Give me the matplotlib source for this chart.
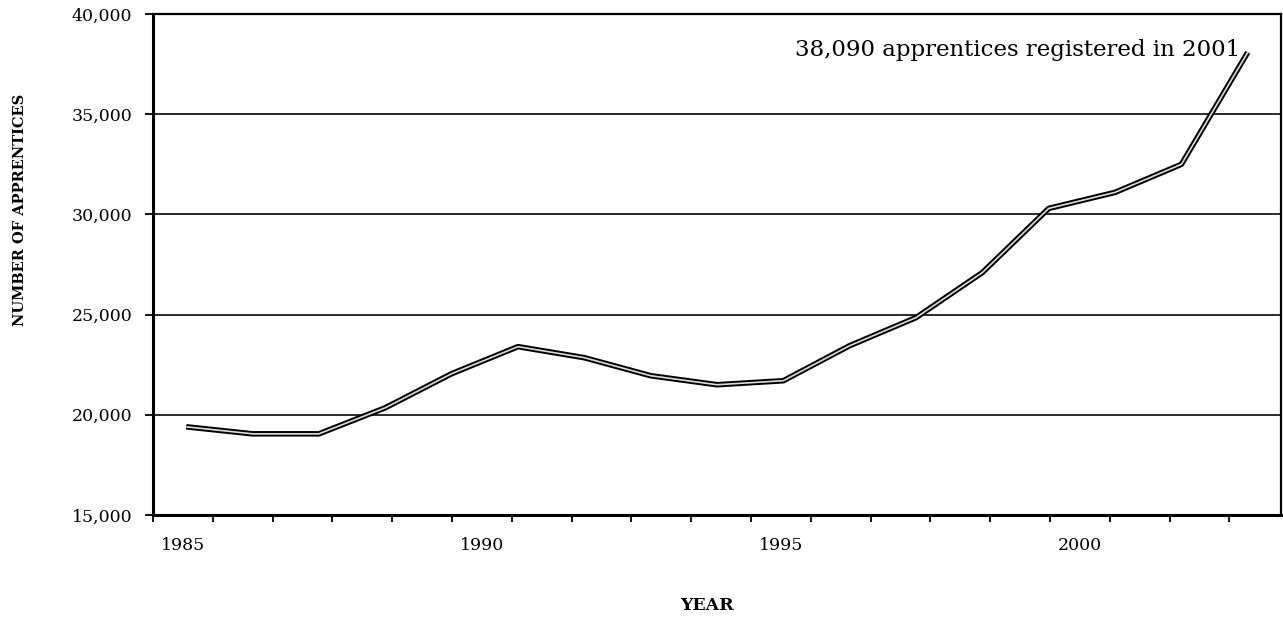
import matplotlib
matplotlib.use("Agg")
import matplotlib.pyplot as plt
from matplotlib.ticker import FuncFormatter

years = list(range(1985, 2002))
apprentices = [19400, 19050, 19050, 20350, 22050, 23400, 22850, 21950, 21500,
               21700, 23450, 24850, 27100, 30300, 31100, 32500, 38090]
y_ticks = [15000, 20000, 25000, 30000, 35000, 40000]
grid_values = [20000, 25000, 30000, 35000]
x_labels = ["1985", "1990", "1995", "2000"]

plt.rcParams['font.family'] = ['DejaVu Serif']

fig = plt.figure(figsize=(12.83, 6.18), dpi=100)
ax = fig.add_axes([0.1193, 0.1667, 0.8791, 0.8106])

xmin, xmax = years[0] - 0.5, years[-1] + 0.5
ax.set_xlim(xmin, xmax)
ax.set_ylim(y_ticks[0], y_ticks[-1])

for g in grid_values:
    ax.axhline(g, color='#1a1a1a', lw=1.3, zorder=1)

ax.plot(years, apprentices, color='black', lw=4.0, solid_joinstyle='round',
        solid_capstyle='butt', zorder=3)
ax.plot(years, apprentices, color='#dcdcdc', lw=1.2, solid_joinstyle='round',
        solid_capstyle='butt', zorder=4)

# category-style x axis: tick marks at boundaries, labels centred between
step = 0.9013
n = 19
tick_pos = [xmin + k * step for k in range(n) if xmin + k * step <= xmax]
ax.set_xticks(tick_pos)
ax.set_xticklabels([])
label_pos = [xmin + (i + 0.5) * step for i in (0, 5, 10, 15)]
ax.set_xticks(label_pos, minor=True)
ax.set_xticklabels(x_labels, minor=True, fontsize=12.5)
ax.tick_params(axis='x', which='major', direction='out', length=5, width=1.3)
ax.tick_params(axis='x', which='minor', length=0, pad=16)

ax.set_yticks(y_ticks)
ax.yaxis.set_major_formatter(FuncFormatter(lambda v, p: f"{int(v):,}"))
ax.tick_params(axis='y', direction='out', length=6, width=1.3, labelsize=12.5, pad=9)

for side in ['left', 'bottom']:
    ax.spines[side].set_linewidth(2.2)
for side in ['top', 'right']:
    ax.spines[side].set_linewidth(1.6)

ax.text(2000.88, 38200, f"{apprentices[-1]:,} apprentices registered in {years[-1]}",
        ha='right', va='center', fontsize=16.5)

fig.text(707 / 1283, 1 - 606 / 618, "YEAR", ha='center', va='center',
         fontsize=12.5, fontweight='bold')
fig.text(20 / 1283, 1 - 210 / 618, "NUMBER OF APPRENTICES", ha='center', va='center',
         rotation=90, fontsize=10.5, fontweight='bold')

fig.savefig("out.png", dpi=100)
